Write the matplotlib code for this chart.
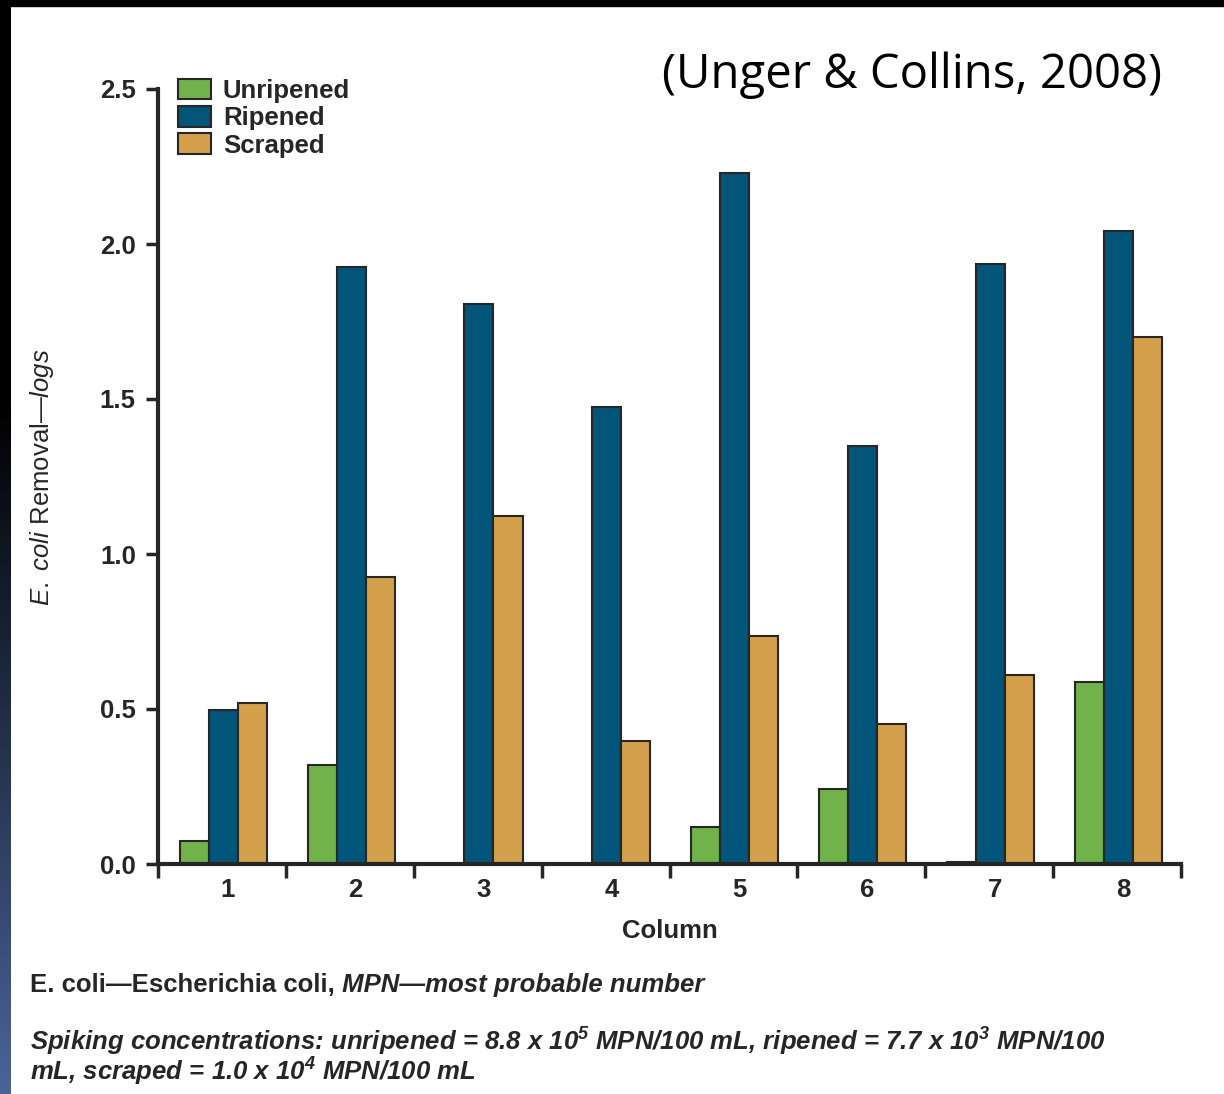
import matplotlib
matplotlib.use('Agg')
import matplotlib.pyplot as plt
import numpy as np
from matplotlib.patches import Patch
from matplotlib.colors import LinearSegmentedColormap

columns = ['1', '2', '3', '4', '5', '6', '7', '8']
unripened = [0.074, 0.32, 0.0, 0.0, 0.119, 0.242, 0.006, 0.587]
ripened = [0.497, 1.926, 1.806, 1.474, 2.229, 1.348, 1.935, 2.042]
scraped = [0.52, 0.926, 1.123, 0.397, 0.735, 0.452, 0.61, 1.70]
series_names = ['Unripened', 'Ripened', 'Scraped']
series_colors = ['#72b24a', '#005578', '#d4a04c']

plt.rcParams['font.family'] = ['Liberation Sans', 'DejaVu Sans']
plt.rcParams['mathtext.fontset'] = 'custom'
plt.rcParams['mathtext.rm'] = 'Liberation Sans'
plt.rcParams['mathtext.it'] = 'Liberation Sans:italic'
plt.rcParams['mathtext.bf'] = 'Liberation Sans:bold:italic'

txt = '#262626'
edge = '#262626'
fs = 18.5

fig = plt.figure(figsize=(12.24, 10.94), dpi=100)
fig.patch.set_facecolor('white')

# black frame at top and left, left strip fades into blue toward bottom
fig.add_artist(plt.Rectangle((0, 1 - 6 / 1094), 1, 6 / 1094, transform=fig.transFigure,
                             color='black', zorder=5))
strip = fig.add_axes([0, 0, 11 / 1224, 1 - 6 / 1094])
grad = np.linspace(0, 1, 256)
grad = np.clip((grad - 0.36) / 0.64, 0, 1)[:, None]
cm = LinearSegmentedColormap.from_list('edge', ['#000000', '#4a6399'])
strip.imshow(grad, aspect='auto', cmap=cm, origin='upper')
strip.set_axis_off()

ax = fig.add_axes([158 / 1224, 230 / 1094, (1181 - 158) / 1224, (864 - 89) / 1094])
x = np.arange(len(columns))
w = 0.227
for i, (vals, col) in enumerate(zip([unripened, ripened, scraped], series_colors)):
    ax.bar(x + (i - 1) * w + 0.01, vals, w, color=col, edgecolor=edge, linewidth=1.5)

ax.set_xlim(-0.5, len(columns) - 0.5)
ax.set_ylim(0, 2.5)
ax.set_yticks([0, 0.5, 1.0, 1.5, 2.0, 2.5])
ax.set_yticklabels(['0.0', '0.5', '1.0', '1.5', '2.0', '2.5'])
ax.set_xticks(x + 0.045)
ax.set_xticklabels(columns)
ax.set_xticks(np.arange(-0.5, len(columns)), minor=True)
ax.tick_params(axis='x', which='major', length=0, pad=10)
ax.tick_params(axis='x', which='minor', length=10, width=2.5, color=edge)
ax.tick_params(axis='y', length=9, width=2.5, color=edge, pad=7)
for lab in ax.get_xticklabels() + ax.get_yticklabels():
    lab.set_fontsize(fs)
    lab.set_fontweight('bold')
    lab.set_color(txt)
for s in ['top', 'right']:
    ax.spines[s].set_visible(False)
for s in ['left', 'bottom']:
    ax.spines[s].set_linewidth(3)
    ax.spines[s].set_color(edge)

ax.set_xlabel('Column', fontsize=fs, fontweight='bold', color=txt, labelpad=12)
fig.text(42 / 1224, 1 - 477 / 1094,
         r'$\mathit{E.\ coli}$ Removal—$\mathit{logs}$', rotation=90,
         fontsize=fs, color=txt, ha='center', va='center')

handles = [Patch(facecolor=c, edgecolor=edge, linewidth=1.5) for c in series_colors]
fig.legend(handles, series_names, loc='upper left', bbox_to_anchor=(178 / 1224, 1 - 79 / 1094),
           frameon=False, borderpad=0, borderaxespad=0, handlelength=1.3, handleheight=0.85,
           handletextpad=0.45, labelspacing=0.12,
           prop={'size': fs, 'weight': 'bold'}, labelcolor=txt)

fig.text(1162 / 1224, 1 - 75 / 1094, '(Unger & Collins, 2008)', fontsize=34,
         family=['Open Sans', 'DejaVu Sans'], color='black', ha='right', va='center')

t1 = fig.text(30 / 1224, 1 - 992 / 1094, 'E. coli—Escherichia coli,', fontsize=fs,
              fontweight='bold', color=txt, va='baseline')
ax.annotate(' MPN—most probable number', xy=(1, 0), xycoords=t1, xytext=(0, 0),
            textcoords='offset points', fontsize=fs, fontweight='bold', style='italic',
            color=txt, va='bottom', ha='left', annotation_clip=False)
fig.text(30 / 1224, 1 - 1042 / 1094,
         r'Spiking concentrations: unripened = 8.8 x 10$^{\mathbf{5}}$ MPN/100 mL, ripened = 7.7 x 10$^{\mathbf{3}}$ MPN/100',
         fontsize=fs, fontweight='bold', style='italic', color=txt, va='center')
fig.text(30 / 1224, 1 - 1072 / 1094, r'mL, scraped = 1.0 x 10$^{\mathbf{4}}$ MPN/100 mL',
         fontsize=fs, fontweight='bold', style='italic', color=txt, va='center')

fig.savefig('out.png', dpi=100)
